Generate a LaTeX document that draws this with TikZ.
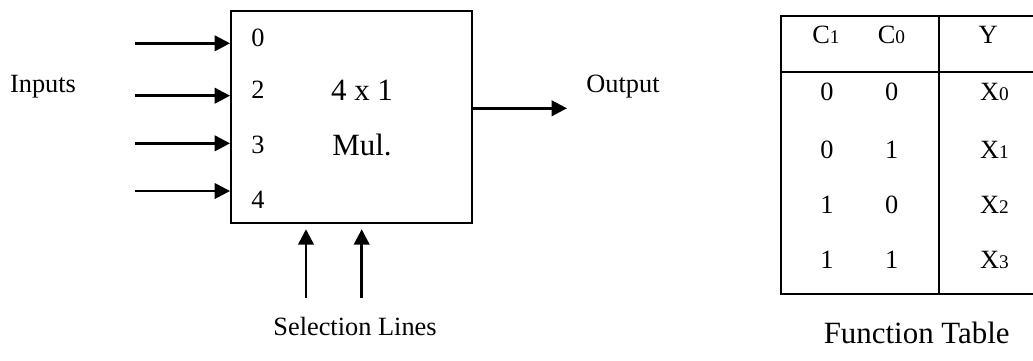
\documentclass[tikz,border=0pt]{standalone}
\usepackage{fontspec}
\setmainfont{Liberation Serif}
\usetikzlibrary{arrows.meta}

\tikzset{
  sig/.style={line width=1.5pt, -{Triangle[length=3.1mm,width=3.1mm]}},
  txt/.style={inner sep=0pt, font=\fontsize{15}{18}\selectfont},
  bigtxt/.style={inner sep=0pt, font=\fontsize{17.6}{21}\selectfont},
  tabline/.style={line width=1.3pt},
}
% small index digit sitting on the baseline
\newcommand{\idx}[1]{{\fontsize{11}{13}\selectfont #1}}

\begin{document}
\begin{tikzpicture}[x=0.02cm, y=-0.02cm]
        \useasboundingbox (0,0) rectangle (1033,360);

        % multiplexer block
        \node[draw, line width=1.1pt, inner sep=0pt, minimum width=4.82cm, minimum height=4.24cm] (mux) at (351.5,117) {};
        \node[txt] (p0) at (258,38) {0};
        \node[txt] (p2) at (258,90) {2};
        \node[txt] (p3) at (258,145) {3};
        \node[txt] (p4) at (258,200) {4};
        \node[bigtxt] (kind) at (362,90) {4 x 1};
        \node[bigtxt] (mul) at (362,145) {Mul.};

        % inputs
        \coordinate (in0) at (135,43.3);
        \coordinate (in2) at (135,95.7);
        \coordinate (in3) at (135,143.3);
        \coordinate (in4) at (135,191);
        \foreach \i in {0,2,3,4}
            \draw[sig] (in\i) -- (in\i -| mux.west);
        \node[txt] (inputs) at (43,87) {Inputs};

        % output
        \coordinate (out) at (567,108.3);
        \draw[sig] (mux.east |- out) -- (out);
        \node[txt] (output) at (623,87) {Output};

        % selection lines
        \coordinate (s1) at (306,298);
        \coordinate (s0) at (361.7,298);
        \draw[sig, shorten >=3pt] (s1) -- (s1 |- mux.south);
        \draw[sig, shorten >=3pt] (s0) -- (s0 |- mux.south);
        \node[txt] (sel) at (355,326) {Selection Lines};

        % function table
        \draw[tabline] (1034,15.7) -- (780.7,15.7) -- (780.7,294.3) -- (1034,294.3);
        \draw[tabline] (939,15.7) -- (939,294.3);
        \draw[tabline] (780.7,71.7) -- (1034,71.7);
        \node[txt] (hc1) at (826,35) {C\idx{1}};
        \node[txt] (hc0) at (891.5,35) {C\idx{0}};
        \node[txt] (hy) at (988,35) {Y};
        \foreach \a/\b/\x/\y [count=\r from 0] in {0/0/0/91.5, 0/1/1/150, 1/0/2/205, 1/1/3/260} {
            \node[txt] (ra\r) at (827,\y) {\a};
            \node[txt] (rb\r) at (891.7,\y) {\b};
            \node[txt] (ry\r) at (994.5,\y) {X\idx{\x}};
        }
        \node[bigtxt] (ftab) at (916.7,333) {Function Table};
\end{tikzpicture}
\end{document}
